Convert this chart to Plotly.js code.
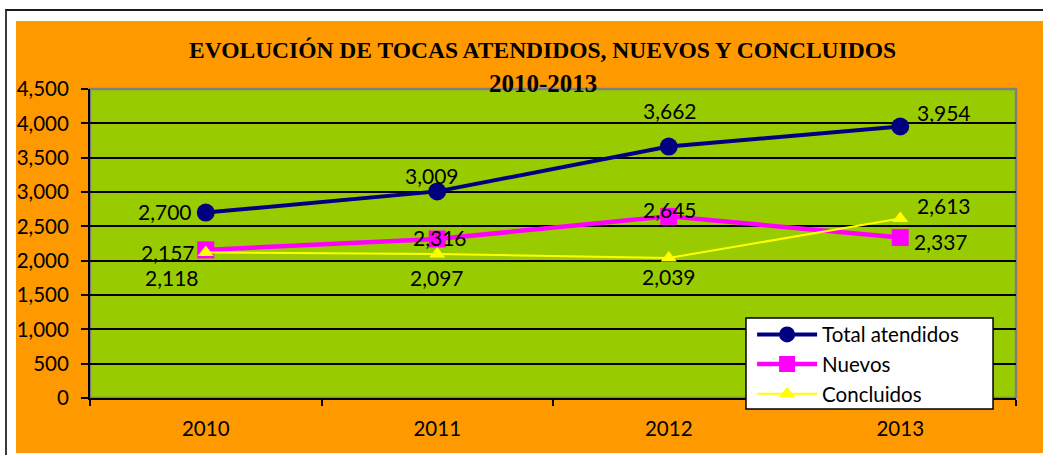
<!DOCTYPE html>
<html>
<head>
<meta charset="utf-8">
<script src="https://cdn.plot.ly/plotly-3.0.1.min.js"></script>
<style>
  html, body { margin: 0; padding: 0; background: #ffffff; width: 1043px; height: 455px; overflow: hidden; }
  #frame { position: absolute; left: 5px; top: 9px; width: 1050px; height: 460px;
           border-top: 2px solid #1a1a1a; border-left: 2px solid #3a3a3a; }
  #chart { position: absolute; left: 16px; top: 21px; width: 1027px; height: 432px; }
</style>
</head>
<body>
<div id="frame"></div>
<div id="chart"></div>
<script>
// ---- data ----
const years = ['2010', '2011', '2012', '2013'];
const totalAtendidos = [2700, 3009, 3662, 3954];
const nuevos = [2157, 2316, 2645, 2337];
const concluidos = [2118, 2097, 2039, 2613];
const seriesNames = ['Total atendidos', 'Nuevos', 'Concluidos'];
const titleLine1 = 'EVOLUCIÓN DE TOCAS ATENDIDOS, NUEVOS Y CONCLUIDOS';
const titleLine2 = '2010-2013';

// ---- styles ----
const colTotal = '#000080', colNuevos = '#FF00FF', colConcl = '#FFFF00';
// label offsets (px; dx right, dy down) relative to each point
const offTotal = [[-41, -1], [-5, -16], [1, -36], [44, -14]];
const offNuevos = [[-38, 3], [3, -1], [1, -7], [41, 4]];
const offConcl = [[-34, 25], [0, 23], [0, 19], [44, -13]];

const fmt = v => v.toLocaleString('en-US');
const labelFont = {family: 'Lato, "Open Sans", sans-serif', size: 21, color: '#000000'};
const tickFont = {family: 'Lato, "Open Sans", sans-serif', size: 20.5, color: '#000000'};

const traces = [
  {x: years, y: totalAtendidos, name: seriesNames[0], type: 'scatter', mode: 'lines+markers',
   line: {color: colTotal, width: 4}, marker: {symbol: 'circle', size: 18, color: colTotal}},
  {x: years, y: nuevos, name: seriesNames[1], type: 'scatter', mode: 'lines+markers',
   line: {color: colNuevos, width: 4.5}, marker: {symbol: 'square', size: 17, color: colNuevos}},
  {x: years, y: concluidos, name: seriesNames[2], type: 'scatter', mode: 'lines+markers',
   line: {color: colConcl, width: 2}, marker: {symbol: 'triangle-up', size: 14, color: colConcl}}
];

const annotations = [];
function addLabels(vals, offs) {
  vals.forEach((v, i) => {
    annotations.push({x: i, y: v, xref: 'x', yref: 'y', text: fmt(v), showarrow: false,
      xanchor: 'center', yanchor: 'middle', xshift: offs[i][0], yshift: -offs[i][1], font: labelFont});
  });
}
addLabels(totalAtendidos, offTotal);
addLabels(nuevos, offNuevos);
addLabels(concluidos, offConcl);

annotations.push({xref: 'paper', yref: 'paper', x: 0.4892, y: 1.126, text: '<b>' + titleLine1 + '</b>',
  showarrow: false, xanchor: 'center', yanchor: 'middle',
  font: {family: '"Liberation Serif", "Times New Roman", serif', size: 23.5, color: '#000000'}});
annotations.push({xref: 'paper', yref: 'paper', x: 0.4892, y: 1.019, text: '<b>' + titleLine2 + '</b>',
  showarrow: false, xanchor: 'center', yanchor: 'middle',
  font: {family: '"Liberation Serif", "Times New Roman", serif', size: 25, color: '#000000'}});

const layout = {
  width: 1027, height: 432,
  margin: {l: 74, r: 27, t: 68, b: 55, pad: 0},
  paper_bgcolor: '#FF9900',
  plot_bgcolor: '#99CC00',
  showlegend: true,
  legend: {x: 0.715, y: 0.27, xanchor: 'left', yanchor: 'top', bgcolor: 'rgba(0,0,0,0)',
           borderwidth: 0, itemwidth: 60,
           font: {family: 'Lato, "Open Sans", sans-serif', size: 20.5, color: '#000000'},
           tracegroupgap: 0},
  xaxis: {type: 'category', range: [-0.5, 3.5], showgrid: false, zeroline: false,
          showline: true, linecolor: '#000000', linewidth: 2,
          ticks: 'outside', tickson: 'boundaries', ticklen: 6, tickwidth: 2, tickcolor: '#000000',
          ticklabelstandoff: 11, tickfont: tickFont},
  yaxis: {range: [0, 4500], dtick: 500, tickformat: ',d', showgrid: true, gridcolor: '#000000', gridwidth: 2,
          zeroline: false, showline: true, linecolor: '#000000', linewidth: 2,
          ticks: 'outside', ticklen: 7, tickwidth: 2, tickcolor: '#000000',
          ticklabelstandoff: 8, tickfont: tickFont},
  shapes: [
    {type: 'rect', xref: 'paper', yref: 'paper', x0: 0, x1: 1, y0: 0, y1: 1, layer: 'below',
     line: {color: '#808080', width: 2.5}, fillcolor: 'rgba(0,0,0,0)'},
    {type: 'rect', xref: 'paper', yref: 'paper', x0: 0.7084, x1: 0.9752, y0: -0.0356, y1: 0.2589, layer: 'above',
     line: {color: '#000000', width: 1.5}, fillcolor: '#FFFFFF'}
  ],
  annotations: annotations
};

Plotly.newPlot('chart', traces, layout, {displayModeBar: false, staticPlot: true});
</script>
</body>
</html>
